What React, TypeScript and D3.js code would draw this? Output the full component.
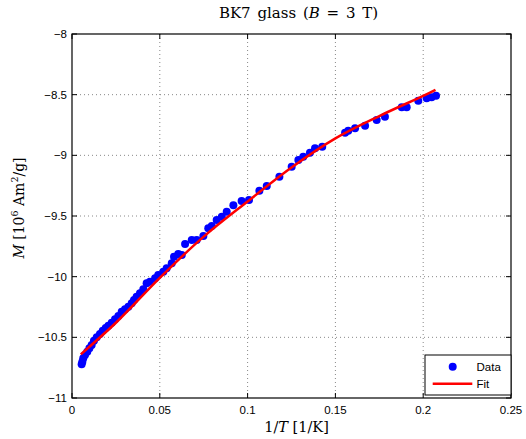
import React from "react";
import * as d3 from "d3";

const dataX = [0.0055, 0.0059, 0.0064, 0.0074, 0.0087, 0.0099, 0.0112, 0.0125, 0.0141, 0.0159, 0.0175, 0.0192, 0.0207, 0.0226, 0.0245, 0.0264, 0.0283, 0.0302, 0.0321, 0.034, 0.0353, 0.0368, 0.0387, 0.0406, 0.0425, 0.0444, 0.0473, 0.0491, 0.052, 0.0539, 0.0568, 0.0581, 0.0605, 0.0625, 0.0644, 0.0682, 0.071, 0.0748, 0.0776, 0.0796, 0.0824, 0.0853, 0.0881, 0.0919, 0.0966, 0.1008, 0.1067, 0.1109, 0.1181, 0.1251, 0.1289, 0.1317, 0.1355, 0.1384, 0.1425, 0.1555, 0.1573, 0.1612, 0.1669, 0.1735, 0.1782, 0.1878, 0.1906, 0.1972, 0.202, 0.2048, 0.2073];
const dataY = [-10.722, -10.701, -10.673, -10.646, -10.618, -10.59, -10.563, -10.528, -10.5, -10.473, -10.445, -10.423, -10.404, -10.379, -10.351, -10.324, -10.289, -10.269, -10.248, -10.22, -10.192, -10.165, -10.137, -10.104, -10.055, -10.042, -10.014, -9.986, -9.959, -9.931, -9.89, -9.835, -9.813, -9.821, -9.731, -9.698, -9.698, -9.665, -9.601, -9.582, -9.533, -9.506, -9.465, -9.412, -9.376, -9.368, -9.292, -9.253, -9.176, -9.094, -9.038, -9.011, -8.978, -8.942, -8.929, -8.813, -8.797, -8.777, -8.756, -8.709, -8.682, -8.604, -8.604, -8.55, -8.53, -8.522, -8.509];

const fitX = [0.005, 0.025, 0.05, 0.075, 0.1, 0.125, 0.15, 0.175, 0.2, 0.207];
const fitY = [-10.64, -10.38, -10.01, -9.67, -9.38, -9.1, -8.86, -8.676, -8.51, -8.46];

const xTicks = [0, 0.05, 0.1, 0.15, 0.2, 0.25];
const xTickLabels = ["0", "0.05", "0.1", "0.15", "0.2", "0.25"];
const yTicks = [-11, -10.5, -10, -9.5, -9, -8.5, -8];
const yTickLabels = ["\u221211", "\u221210.5", "\u221210", "\u22129.5", "\u22129", "\u22128.5", "\u22128"];

const legendLabels = ["Data", "Fit"];

export default function App() {
  const W = 526, H = 439;
  const L = 72, R = 511, T = 34, B = 398;
  const x = d3.scaleLinear().domain([0, 0.25]).range([L, R]);
  const y = d3.scaleLinear().domain([-11, -8]).range([B, T]);
  const line = d3
    .line<number>()
    .x((_, i) => x(fitX[i]))
    .y((d) => y(d))
    .curve(d3.curveCatmullRom);
  const sans = "'Liberation Sans', Arial, sans-serif";
  const serif = "'DejaVu Serif', 'Liberation Serif', serif";
  const tl = 5;
  return (
    <svg width={W} height={H} style={{ position: "absolute", left: 0, top: 0, background: "#fff" }}>
      <rect x={0} y={0} width={W} height={H} fill="#fff" />
      {xTicks.slice(1, -1).map((t) => (
        <line key={"gx" + t} x1={x(t)} x2={x(t)} y1={T} y2={B} stroke="#888" strokeWidth={1} strokeDasharray="1,3" />
      ))}
      {yTicks.slice(1, -1).map((t) => (
        <line key={"gy" + t} x1={L} x2={R} y1={y(t)} y2={y(t)} stroke="#888" strokeWidth={1} strokeDasharray="1,3" />
      ))}
      {xTicks.map((t) => (
        <g key={"tx" + t}>
          <line x1={x(t)} x2={x(t)} y1={B} y2={B - tl} stroke="#000" />
          <line x1={x(t)} x2={x(t)} y1={T} y2={T + tl} stroke="#000" />
        </g>
      ))}
      {yTicks.map((t) => (
        <g key={"ty" + t}>
          <line x1={L} x2={L + tl} y1={y(t)} y2={y(t)} stroke="#000" />
          <line x1={R} x2={R - tl} y1={y(t)} y2={y(t)} stroke="#000" />
        </g>
      ))}
      {dataX.map((d, i) => (
        <circle key={"p" + i} cx={x(d)} cy={y(dataY[i])} r={4} fill="#0000ff" />
      ))}
      <path d={line(fitY) || ""} fill="none" stroke="#ff0000" strokeWidth={2.5} />
      <rect x={L} y={T} width={R - L} height={B - T} fill="none" stroke="#000" strokeWidth={1.2} />
      {xTicks.map((t, i) => (
        <text key={"lx" + t} x={x(t)} y={B + 16} textAnchor="middle" fontFamily={sans} fontSize={11.5} fill="#000">
          {xTickLabels[i]}
        </text>
      ))}
      {yTicks.map((t, i) => (
        <text key={"ly" + t} x={L - 5} y={y(t) + 4} textAnchor="end" fontFamily={sans} fontSize={11.5} fill="#000">
          {yTickLabels[i]}
        </text>
      ))}
      <text x={(L + R) / 2 + 7} y={18} textAnchor="middle" fontFamily={serif} fontSize={15} fill="#000" wordSpacing={2}>
        BK7 glass (<tspan fontStyle="italic">B</tspan> = 3 T)
      </text>
      <text x={(L + R) / 2 + 5} y={432} textAnchor="middle" fontFamily={serif} fontSize={14.5} fill="#000">
        1/<tspan fontStyle="italic">T</tspan> [1/K]
      </text>
      <text transform={`translate(24,208) rotate(-90)`} textAnchor="middle" fontFamily={serif} fontSize={14} fill="#000">
        <tspan fontStyle="italic">M</tspan> [10<tspan dy={-6} fontSize={9.5}>6</tspan>
        <tspan dy={6}> Am</tspan>
        <tspan dy={-6} fontSize={9.5}>2</tspan>
        <tspan dy={6}>/g]</tspan>
      </text>
      <rect x={425} y={355} width={86} height={40} fill="#fff" stroke="#000" strokeWidth={1} />
      <circle cx={452.7} cy={366.7} r={4} fill="#0000ff" />
      <text x={476.5} y={371} fontFamily={sans} fontSize={11.5} fill="#000">{legendLabels[0]}</text>
      <line x1={432.7} x2={472.3} y1={383.7} y2={383.7} stroke="#ff0000" strokeWidth={2.5} />
      <text x={476.5} y={388} fontFamily={sans} fontSize={11.5} fill="#000">{legendLabels[1]}</text>
    </svg>
  );
}
